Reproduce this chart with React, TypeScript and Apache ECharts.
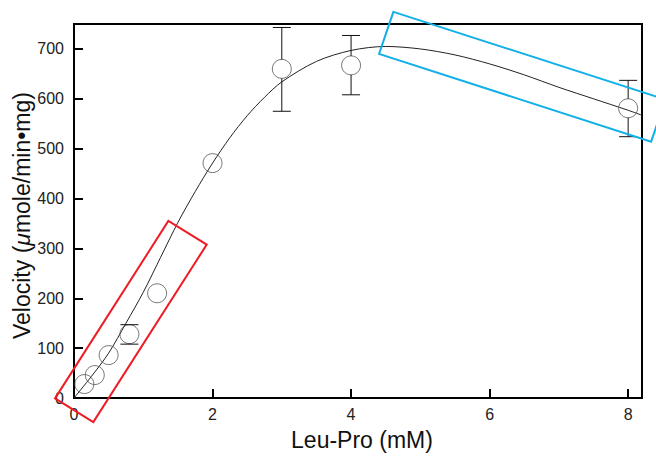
import React, { useEffect, useRef } from "react";
import * as echarts from "echarts";

// Measured points (Leu-Pro concentration, mM) and velocity
const concentrations = [0.15, 0.3, 0.5, 0.8, 1.2, 2, 3, 4, 8];
const velocities = [28, 46, 86, 128, 210, 471, 660, 667, 581];

// Error bars
const errX = [0.8, 3, 4, 8];
const errMean = [128, 660, 667, 581];
const errLow = [108, 575, 608, 524];
const errHigh = [147, 743, 727, 637];

// Fitted curve
const fitX = [0, 0.25, 0.5, 0.75, 1.0, 1.25, 1.5, 1.75, 2.0, 2.25, 2.5, 2.75, 3.0, 3.5, 4.0, 4.5, 5.0, 5.5, 6.0, 6.5, 7.0, 7.5, 8.0, 8.2];
const fitY = [0, 43, 90, 150, 212, 282, 352, 414, 471, 522, 566, 603, 634, 675, 697, 705, 700, 688, 670, 648, 623, 600, 577, 567];

// Annotation boxes (corners in data units)
const redBoxX = [-0.274, 1.362, 1.916, 0.279];
const redBoxY = [-0.8, 355, 307.7, -48.2];
const blueBoxX = [4.611, 8.539, 8.332, 4.404];
const blueBoxY = [774.4, 598.4, 514.1, 690.1];

const xTicks = [0, 2, 4, 6, 8];
const yTicks = [0, 100, 200, 300, 400, 500, 600, 700];

const FONT = "'Liberation Sans', Arial, Helvetica, sans-serif";

export default function App() {
  const ref = useRef<HTMLDivElement>(null);
  useEffect(() => {
    if (!ref.current) return;
    const chart = echarts.init(ref.current, null, { renderer: "svg" });
    const R = 9.5;
    chart.setOption({
      animation: false,
      backgroundColor: "#ffffff",
      grid: {
        left: 74,
        right: 14,
        top: 24,
        bottom: 54,
        show: true,
        borderColor: "#000",
        borderWidth: 2,
        backgroundColor: "transparent",
      },
      graphic: [
        {
          type: "text",
          x: 10,
          y: 339,
          rotation: Math.PI / 2,
          silent: true,
          style: {
            text: "Velocity ({mu|μ}mole/min•mg)",
            fontSize: 23,
            fontFamily: FONT,
            fill: "#111",
            align: "left",
            verticalAlign: "top",
            rich: { mu: { fontSize: 23, fontFamily: FONT, fontStyle: "italic", fill: "#111" } },
          },
        },
      ],
      xAxis: {
        type: "value",
        min: 0,
        max: 8.2,
        interval: 2,
        name: "Leu-Pro (mM)",
        nameLocation: "middle",
        nameGap: 30,
        nameTextStyle: { fontSize: 23, fontFamily: FONT, color: "#111", padding: [0, 0, 0, 8] },
        axisLine: { show: true, lineStyle: { color: "#000", width: 2 } },
        axisTick: { show: true, inside: true, length: 9, lineStyle: { color: "#000", width: 2 } },
        axisLabel: {
          fontSize: 16,
          fontFamily: FONT,
          color: "#222",
          margin: 8,
          formatter: (v: number) => (xTicks.includes(v) ? String(v) : ""),
        },
        splitLine: { show: false },
      },
      yAxis: {
        type: "value",
        min: 0,
        max: 750,
        interval: 100,
        axisLine: { show: true, lineStyle: { color: "#000", width: 2 } },
        axisTick: { show: true, inside: true, length: 9, lineStyle: { color: "#000", width: 2 } },
        axisLabel: {
          fontSize: 16,
          fontFamily: FONT,
          color: "#222",
          margin: 10,
          formatter: (v: number) => (yTicks.includes(v) ? String(v) : ""),
        },
        splitLine: { show: false },
      },
      series: [
        {
          type: "line",
          name: "fit",
          data: fitX.map((x, i) => [x, fitY[i]]),
          smooth: 0.3,
          showSymbol: false,
          lineStyle: { color: "#222", width: 1 },
          silent: true,
          z: 3,
        },
        {
          type: "scatter",
          name: "data",
          data: concentrations.map((x, i) => [x, velocities[i]]),
          symbol: "circle",
          symbolSize: 2 * R,
          itemStyle: { color: "rgba(255,255,255,0)", borderColor: "#555", borderWidth: 1 },
          z: 4,
        },
        {
          type: "custom",
          name: "error",
          data: errX.map((x, i) => [x, errMean[i], errLow[i], errHigh[i]]),
          renderItem: (params: any, api: any) => {
            const x = api.value(0);
            const c = api.coord([x, api.value(1)]);
            const lo = api.coord([x, api.value(2)]);
            const hi = api.coord([x, api.value(3)]);
            const w = 9;
            const st = { stroke: "#111", lineWidth: 1 };
            const children: any[] = [
              { type: "line", shape: { x1: lo[0] - w, y1: lo[1], x2: lo[0] + w, y2: lo[1] }, style: st },
              { type: "line", shape: { x1: hi[0] - w, y1: hi[1], x2: hi[0] + w, y2: hi[1] }, style: st },
            ];
            if (c[1] - R > hi[1]) {
              children.push({ type: "line", shape: { x1: hi[0], y1: hi[1], x2: hi[0], y2: c[1] - R }, style: st });
            }
            if (lo[1] > c[1] + R) {
              children.push({ type: "line", shape: { x1: lo[0], y1: c[1] + R, x2: lo[0], y2: lo[1] }, style: st });
            }
            return { type: "group", children };
          },
          z: 5,
        },
        {
          type: "custom",
          name: "boxes",
          clip: false,
          silent: true,
          data: [[0, 0]],
          renderItem: (params: any, api: any) => {
            const red = redBoxX.map((x, i) => api.coord([x, redBoxY[i]]));
            const blue = blueBoxX.map((x, i) => api.coord([x, blueBoxY[i]]));
            return {
              type: "group",
              children: [
                { type: "polygon", shape: { points: red }, style: { fill: "none", stroke: "#ee1c24", lineWidth: 2 } },
                { type: "polygon", shape: { points: blue }, style: { fill: "none", stroke: "#12b0e8", lineWidth: 2 } },
              ],
            };
          },
          z: 6,
        },
      ],
    });
    return () => chart.dispose();
  }, []);
  return (
    <div
      ref={ref}
      style={{ position: "absolute", left: 0, top: 0, width: 656, height: 456, background: "#fff" }}
    />
  );
}
